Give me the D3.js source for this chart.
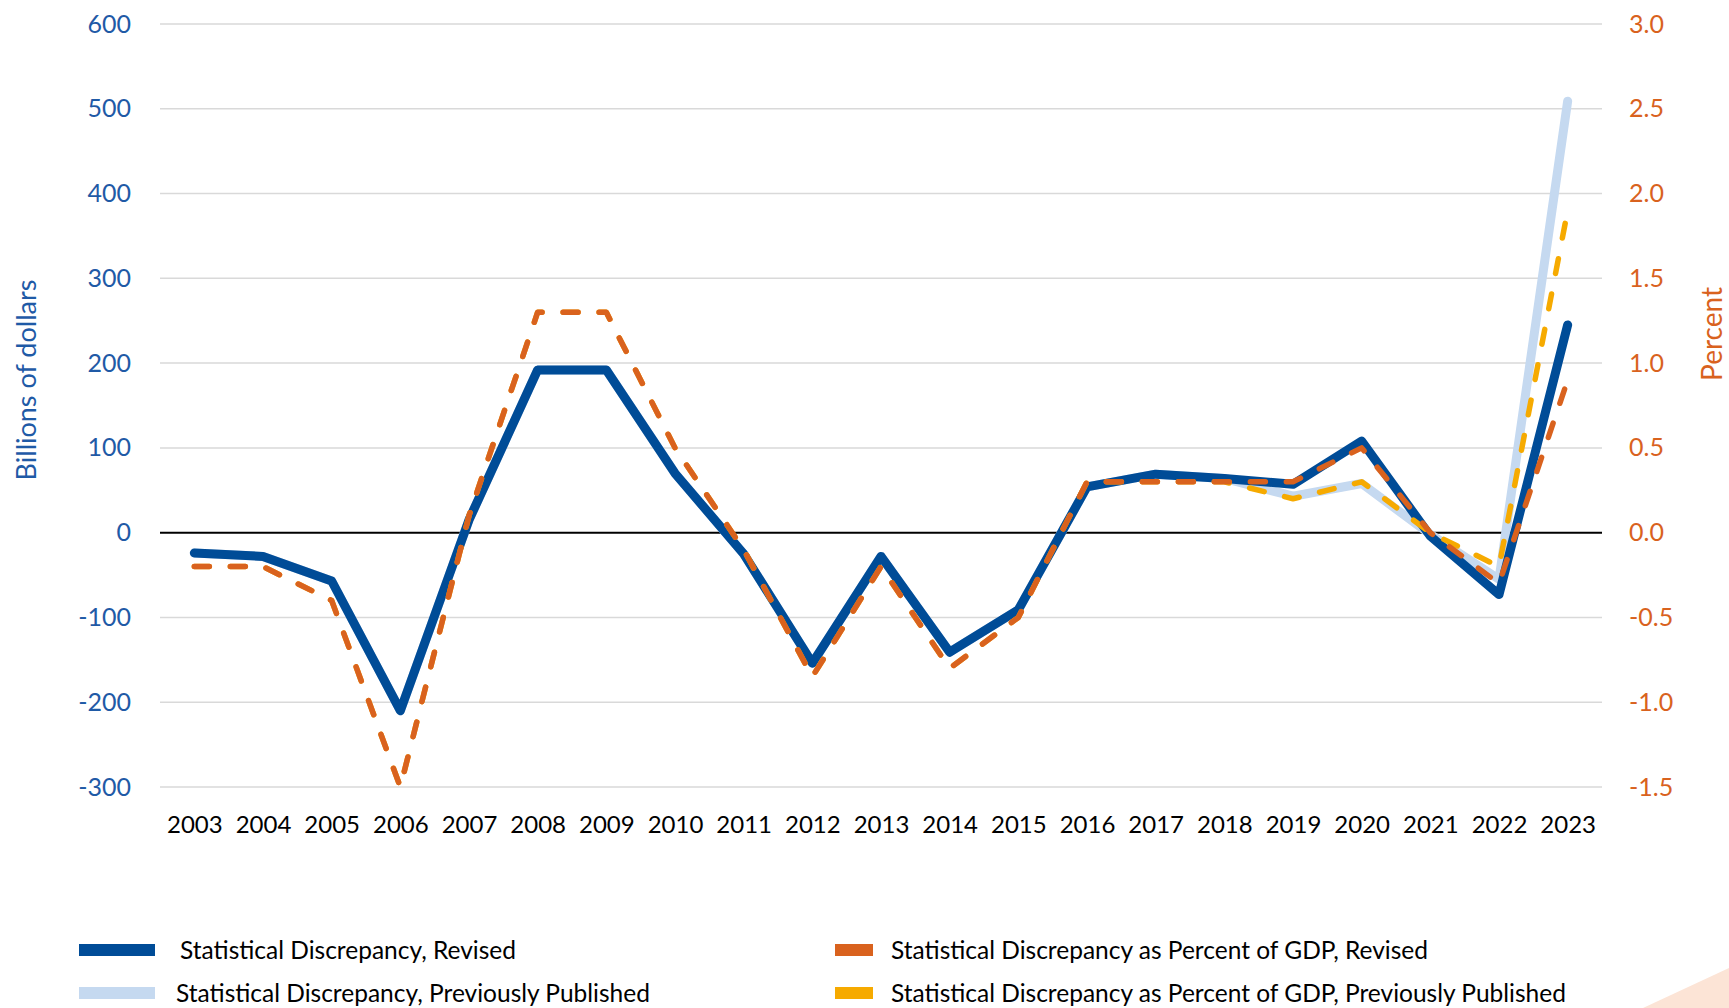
<!DOCTYPE html>
<html>
<head>
<meta charset="utf-8" />
<title>Statistical Discrepancy</title>
<style>
html, body {
    margin: 0px;
    padding: 0px;
    background: #fff;
}
svg text {
    font-family: Lato, "Open Sans", sans-serif;
}
.grid line {
    stroke: #d9d9d9;
    stroke-width: 1.5;
}
</style>
</head>
<body>
<svg id="chart" width="1729" height="1008"></svg>

<script src="https://cdnjs.cloudflare.com/ajax/libs/d3/7.8.5/d3.min.js"></script>
<script>
!(function(){
    "use strict";

    // data
    var years = ["2003","2004","2005","2006","2007","2008","2009","2010","2011","2012","2013",
                 "2014","2015","2016","2017","2018","2019","2020","2021","2022","2023"];

    // billions of dollars
    var sdRevised  = [-24, -28, -57, -210, 15, 192, 192, 70, -25, -154, -28,
                      -141, -91, 54, 69, 64, 57, 108, -4, -73, 245];
    var sdPrevious = [-24, -28, -57, -210, 15, 192, 192, 70, -25, -154, -28,
                      -141, -91, 54, 69, 64, 43, 58, -2, -55, 509];

    // percent of GDP
    var pctRevised  = [-0.2, -0.2, -0.4, -1.5, 0.1, 1.3, 1.3, 0.5, -0.1, -0.85, -0.2,
                       -0.8, -0.5, 0.3, 0.3, 0.3, 0.3, 0.5, 0.0, -0.3, 0.9];
    var pctPrevious = [-0.2, -0.2, -0.4, -1.5, 0.1, 1.3, 1.3, 0.5, -0.1, -0.85, -0.2,
                       -0.8, -0.5, 0.3, 0.3, 0.3, 0.2, 0.3, 0.0, -0.2, 1.9];

    var leftTicks  = [-300, -200, -100, 0, 100, 200, 300, 400, 500, 600];
    var rightTicks = [-1.5, -1.0, -0.5, 0.0, 0.5, 1.0, 1.5, 2.0, 2.5, 3.0];

    var legendItems = [
        {label: "Statistical Discrepancy, Revised", color: "#004C97"},
        {label: "Statistical Discrepancy, Previously Published", color: "#C5D9F0"},
        {label: "Statistical Discrepancy as Percent of GDP, Revised", color: "#D9621E"},
        {label: "Statistical Discrepancy as Percent of GDP, Previously Published", color: "#F6AA00"}
    ];

    var svg = d3.select("#chart");
    var left = 160, right = 1602, top = 24, bottom = 787;

    var x = d3.scalePoint().domain(years).range([left, right]).padding(0.5);
    var yL = d3.scaleLinear().domain([-300, 600]).range([bottom, top]);
    var yR = d3.scaleLinear().domain([-1.5, 3.0]).range([bottom, top]);

    // plain hyphen for negatives, like the original
    var fmtL = function(d){ return d3.format("d")(d).replace("\u2212", "-"); };
    var fmtR = function(d){ return d3.format(".1f")(d).replace("\u2212", "-"); };

    // gridlines
    var grid = svg.append("g").attr("class", "grid");
    grid.selectAll("line")
        .data(leftTicks.filter(function(d){ return d !== 0; }))
        .enter().append("line")
        .attr("x1", left).attr("x2", right)
        .attr("y1", function(d){ return yL(d); })
        .attr("y2", function(d){ return yL(d); });

    svg.append("line")
        .attr("x1", left).attr("x2", right)
        .attr("y1", yL(0)).attr("y2", yL(0))
        .attr("stroke", "#000").attr("stroke-width", 2);

    // left axis labels
    var axL = svg.append("g").attr("transform", "translate(" + (left - 10) + ",0)")
        .call(d3.axisLeft(yL).tickValues(leftTicks).tickSize(0).tickPadding(19).tickFormat(fmtL));
    axL.select(".domain").remove();
    axL.selectAll("text").attr("fill", "#1F5AA6").style("font-size", "25px");

    // right axis labels
    var axR = svg.append("g").attr("transform", "translate(" + (right + 10) + ",0)")
        .call(d3.axisRight(yR).tickValues(rightTicks).tickSize(0).tickPadding(17).tickFormat(fmtR));
    axR.select(".domain").remove();
    axR.selectAll("text").attr("fill", "#D9621E").style("font-size", "25px");

    // x axis labels
    var axX = svg.append("g").attr("transform", "translate(0," + bottom + ")")
        .call(d3.axisBottom(x).tickSize(0).tickPadding(29));
    axX.select(".domain").remove();
    axX.selectAll("text").attr("fill", "#000").style("font-size", "24px");

    // axis titles
    svg.append("text")
        .attr("transform", "translate(36,380) rotate(-90)")
        .attr("text-anchor", "middle")
        .attr("fill", "#1F5AA6")
        .style("font-size", "27px")
        .text("Billions of dollars");

    svg.append("text")
        .attr("transform", "translate(1722,334) rotate(-90)")
        .attr("text-anchor", "middle")
        .attr("fill", "#D9621E")
        .style("font-size", "28px")
        .text("Percent");

    // lines
    var lineL = d3.line().x(function(d, i){ return x(years[i]); }).y(function(d){ return yL(d); });
    var lineR = d3.line().x(function(d, i){ return x(years[i]); }).y(function(d){ return yR(d); });

    svg.append("path").datum(sdPrevious)
        .attr("d", lineL).attr("fill", "none")
        .attr("stroke", legendItems[1].color).attr("stroke-width", 9)
        .attr("stroke-linejoin", "round").attr("stroke-linecap", "round");

    svg.append("path").datum(sdRevised)
        .attr("d", lineL).attr("fill", "none")
        .attr("stroke", legendItems[0].color).attr("stroke-width", 9)
        .attr("stroke-linejoin", "round").attr("stroke-linecap", "round");

    svg.append("path").datum(pctPrevious)
        .attr("d", lineR).attr("fill", "none")
        .attr("stroke", legendItems[3].color).attr("stroke-width", 5.5)
        .attr("stroke-dasharray", "15 21")
        .attr("stroke-linejoin", "round").attr("stroke-linecap", "round");

    svg.append("path").datum(pctRevised)
        .attr("d", lineR).attr("fill", "none")
        .attr("stroke", legendItems[2].color).attr("stroke-width", 5.5)
        .attr("stroke-dasharray", "15 21")
        .attr("stroke-linejoin", "round").attr("stroke-linecap", "round");

    // legend
    var legPos = [
        {sx: 79, sw: 76, tx: 180, y: 950},
        {sx: 79, sw: 76, tx: 176, y: 993},
        {sx: 835, sw: 38, tx: 891, y: 950},
        {sx: 835, sw: 38, tx: 891, y: 993}
    ];
    var leg = svg.append("g").selectAll("g").data(legendItems).enter().append("g");
    leg.append("rect")
        .attr("x", function(d, i){ return legPos[i].sx; })
        .attr("y", function(d, i){ return legPos[i].y - 6; })
        .attr("width", function(d, i){ return legPos[i].sw; })
        .attr("height", 12)
        .attr("fill", function(d){ return d.color; });
    leg.append("text")
        .attr("x", function(d, i){ return legPos[i].tx; })
        .attr("y", function(d, i){ return legPos[i].y; })
        .attr("dy", "0.35em")
        .attr("fill", "#000")
        .style("font-family", "'Liberation Sans Narrow', Lato, sans-serif")
        .style("font-size", "24.5px")
        .text(function(d){ return d.label; });

    // decorative corner
    svg.append("polygon")
        .attr("points", "1643,1008 1729,968 1729,1008")
        .attr("fill", "#FCE4D6");

}());
</script>
</body>
</html>
